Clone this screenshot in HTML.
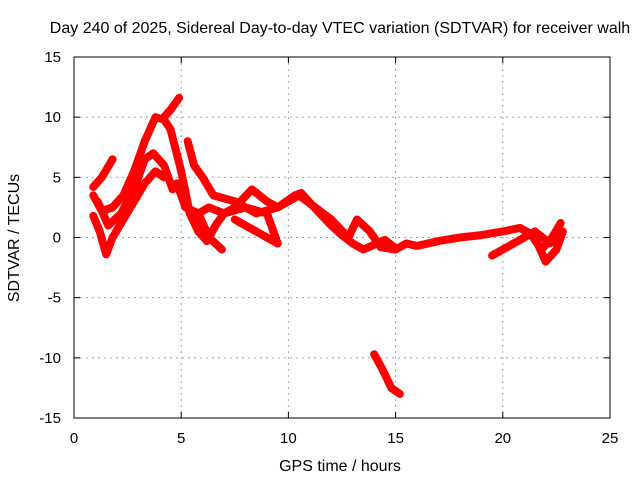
<!DOCTYPE html>
<html><head><meta charset="utf-8"><style>
body{margin:0;background:#fff}
svg text{font-family:"Liberation Sans",sans-serif;font-size:15px;fill:#000}
svg text.big{font-size:16px}
</style></head><body>
<svg id="chart" width="640" height="480">
<text class="big" x="340" y="33" text-anchor="middle">Day 240 of 2025, Sidereal Day-to-day VTEC variation (SDTVAR) for receiver walh</text>
<text class="big" x="340" y="471" text-anchor="middle">GPS time / hours</text>
<text class="big" transform="translate(19,238) rotate(-90)" text-anchor="middle">SDTVAR / TECUs</text>
<g id="grid"></g><g id="series"></g><g id="axes"></g>
</svg>
<script>
const xTicks=[0,5,10,15,20,25];
const yTicks=[-15,-10,-5,0,5,10,15];
const seriesA=[[0.9,3.5],[1.3,2.2],[1.8,2.5],[2.3,3.5],[2.8,5.5],[3.3,8],[3.8,10],[4.2,9.8],[4.5,9.0],[5.0,5.5],[5.4,2],[5.8,0.5],[6.2,-0.3],[6.6,1],[7.0,2],[7.5,2.5],[8.3,4],[9,3],[9.5,2.5],[10.3,3.5],[10.6,3.7],[11.2,2.5],[12,1],[12.5,0.2],[13,-0.5],[13.5,-1],[14,-0.6],[14.5,-0.2],[15,-0.9]];
const seriesB=[[4.2,10],[4.5,10.6],[4.9,11.6]];
const seriesC=[[0.9,4.2],[1.3,5],[1.8,6.5]];
const seriesD=[[1.1,3],[1.6,1],[2.2,2],[2.8,4],[3.3,6.5],[3.7,7],[4.2,6],[4.6,4],[4.8,4.5],[5.2,2.5],[5.8,2],[6.3,2.5],[7,2],[8,2.5],[9,2],[9.5,-0.5]];
const seriesD2=[[0.9,1.8],[1.2,0.5],[1.5,-1.4],[1.8,0],[2.3,1.5],[2.8,3],[3.3,4.5],[3.8,5.5],[4.2,5]];
const seriesE=[[5.3,8],[5.6,6],[6,5],[6.5,3.5],[7.5,3],[8.5,2],[9.5,2.5],[10.5,3.5]];
const seriesF=[[5.8,2],[6.3,0],[6.9,-1]];
const seriesG=[[7.5,1.5],[8.5,0.5],[9.5,-0.5]];
const seriesH=[[10.5,3.5],[12,1.5],[12.8,0],[13.2,1.5],[13.8,0.5],[14.3,-0.8],[15,-1],[15.5,-0.5],[16,-0.7],[17,-0.3],[18,0],[19,0.2],[20,0.5],[20.8,0.8],[21.3,0.3],[21.8,-1],[22.3,0],[22.7,1.2]];
const seriesI=[[19.5,-1.5],[20.5,-0.5],[21.5,0.5],[22.2,-0.5],[22.7,0.5]];
const seriesJ=[[21.5,0],[22,-2],[22.5,-1],[22.8,0.5]];
const seriesK=[[14,-9.7],[14.4,-11],[14.8,-12.5],[15.2,-13]];
const allSeries=[seriesA,seriesB,seriesC,seriesD,seriesD2,seriesE,seriesF,seriesG,seriesH,seriesI,seriesJ,seriesK];
const X0=74,X1=610,Y0=418,Y1=57;
const sx=v=>X0+(v-0)/25*(X1-X0);
const sy=v=>Y0-(v+15)/30*(Y0-Y1);
const NS="http://www.w3.org/2000/svg";
function mk(t,a,p){const e=document.createElementNS(NS,t);for(const k in a)e.setAttribute(k,a[k]);p.appendChild(e);return e;}
const grid=document.getElementById('grid'),axes=document.getElementById('axes'),ser=document.getElementById('series');
xTicks.forEach(t=>{const x=sx(t);
 if(t>0&&t<25){const g=mk('line',{x1:x,x2:x,y1:Y1,y2:Y0,stroke:'#a0a0a0','stroke-dasharray':'2,4'},grid);
 
 }
 mk('line',{x1:x,x2:x,y1:Y0,y2:Y0-6,stroke:'#000'},axes);
 mk('line',{x1:x,x2:x,y1:Y1,y2:Y1+6,stroke:'#000'},axes);
 const l=mk('text',{x:x,y:443,'text-anchor':'middle'},axes);l.textContent=t;
 
 });
yTicks.forEach(t=>{const y=sy(t);
 if(t>-15&&t<15){const g=mk('line',{x1:X0,x2:X1,y1:y,y2:y,stroke:'#a0a0a0','stroke-dasharray':'2,4'},grid);
 
 }
 mk('line',{x1:X0,x2:X0+6,y1:y,y2:y,stroke:'#000'},axes);
 mk('line',{x1:X1,x2:X1-6,y1:y,y2:y,stroke:'#000'},axes);
 const l=mk('text',{x:61,y:y+5,'text-anchor':'end'},axes);l.textContent=t;
 
 });
const fr=mk('rect',{x:X0,y:Y1,width:X1-X0,height:Y0-Y1,fill:'none',stroke:'#000'},axes);


allSeries.forEach(s=>{
 const p=mk('polyline',{points:s.map(d=>sx(d[0])+','+sy(d[1])).join(' '),fill:'none',stroke:'#ff0000','stroke-width':8,'stroke-linejoin':'round','stroke-linecap':'round'},ser);
 
 
});
</script>
</body></html>
